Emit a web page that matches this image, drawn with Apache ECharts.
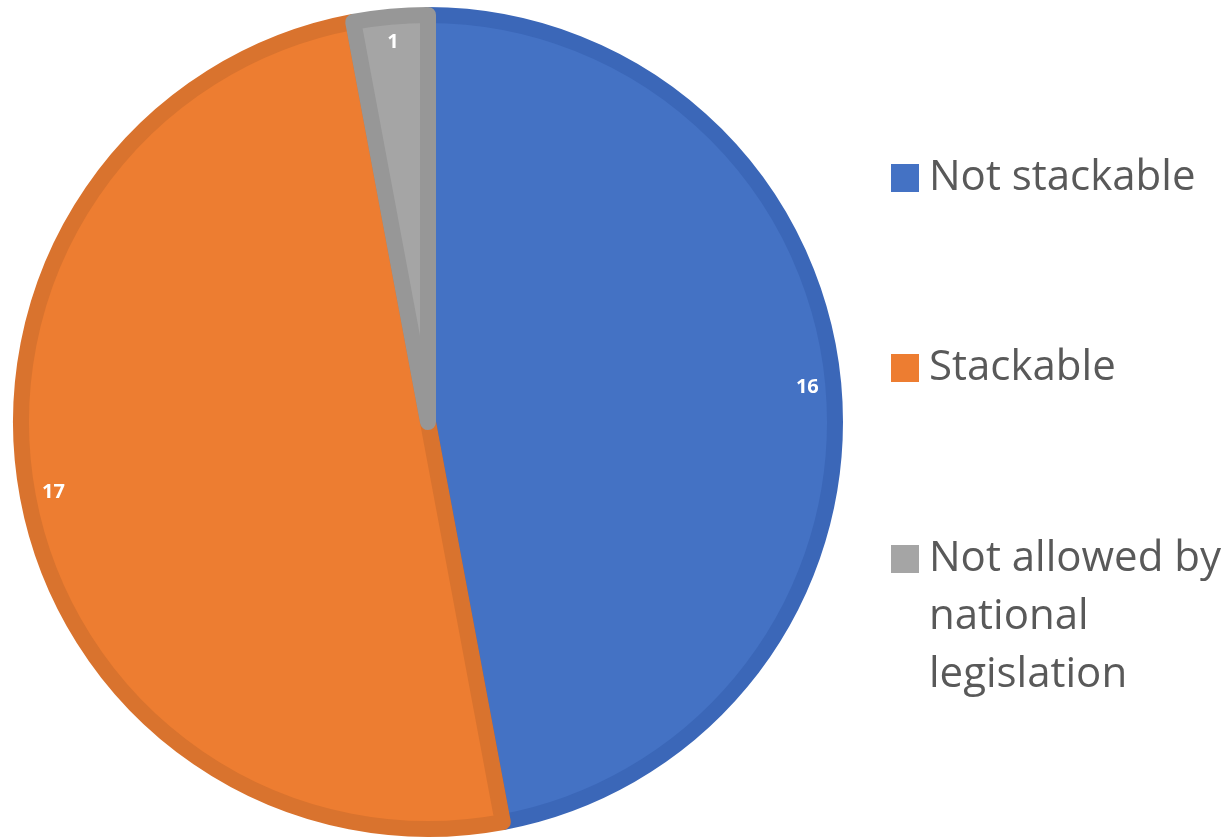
<!DOCTYPE html>
<html>
<head>
<meta charset="utf-8">
<script src="https://cdn.jsdelivr.net/npm/echarts@6/dist/echarts.min.js"></script>
<style>
  html, body { margin: 0; padding: 0; background: #ffffff; }
  #chart { width: 1230px; height: 840px; }
</style>
</head>
<body>
<div id="chart"></div>
<script>
// Survey answers: how member states treat the measure
const categories = ['Not stackable', 'Stackable', 'Not allowed by national legislation'];
const counts = [16, 17, 1];
const fillColors = ['#4472C4', '#ED7D31', '#A5A5A5'];
const edgeColors = ['#3B67B8', '#D9732E', '#979797'];

const FONT = '"Open Sans", "Liberation Sans", sans-serif';

const slices = categories.map((name, i) => ({
  name,
  value: counts[i],
  itemStyle: { color: fillColors[i], borderColor: edgeColors[i] }
}));

const labelSlices = categories.map((name, i) => ({ name, value: counts[i] }));

function legendFor(name, top, formatter) {
  return {
    data: [name],
    left: 891,
    top: top,
    padding: 0,
    itemWidth: 28,
    itemHeight: 28,
    icon: 'rect',
    selectedMode: false,
    formatter: formatter,
    itemStyle: { borderWidth: 0 },
    textStyle: {
      fontFamily: FONT,
      fontSize: 42,
      color: '#595959',
      lineHeight: 58,
      padding: [0, 0, 0, 5]
    }
  };
}

const chart = echarts.init(document.getElementById('chart'), null, { renderer: 'canvas' });
chart.setOption({
  animation: false,
  backgroundColor: '#ffffff',
  textStyle: { fontFamily: FONT },
  legend: [
    legendFor(categories[0], 149),
    legendFor(categories[1], 339),
    // two leading blank lines keep the marker beside the first text line
    legendFor(categories[2], 414, () => '\n\nNot allowed by\nnational\nlegislation')
  ],
  series: [
    {
      type: 'pie',
      center: [428, 422],
      radius: [0, 407],
      startAngle: 90,
      clockwise: true,
      silent: true,
      itemStyle: { borderWidth: 16 },
      label: { show: false },
      labelLine: { show: false },
      data: slices
    },
    {
      // transparent ring that carries the value labels near the rim
      type: 'pie',
      center: [428, 422],
      radius: [341, 415],
      startAngle: 90,
      clockwise: true,
      silent: true,
      itemStyle: { color: 'rgba(0,0,0,0)', borderWidth: 0 },
      label: {
        show: true,
        position: 'inside',
        formatter: '{c}',
        color: '#ffffff',
        fontFamily: FONT,
        fontWeight: 'bold',
        fontSize: 20
      },
      labelLine: { show: false },
      data: labelSlices
    }
  ]
});
</script>
</body>
</html>
